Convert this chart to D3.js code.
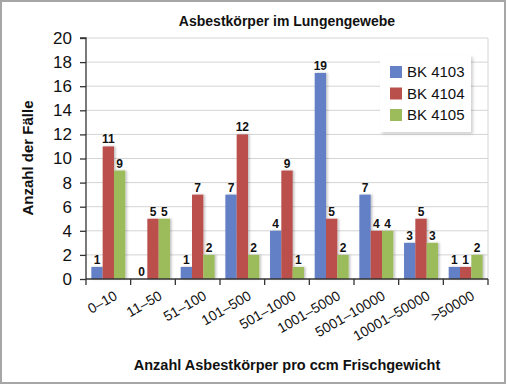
<!DOCTYPE html>
<html><head><meta charset="utf-8">
<script src="https://cdn.jsdelivr.net/npm/d3@7"></script>
<style>body{margin:0;background:#fff}svg{display:block;font-family:"Liberation Sans",Arial,sans-serif}</style>
</head><body>
<script>
const categories = ["0–10","11–50","51–100","101–500","501–1000","1001–5000","5001–10000","10001–50000",">50000"];
const seriesNames = ["BK 4103","BK 4104","BK 4105"];
const bk4103 = [1,0,1,7,4,17.1,7,3,1];
const bk4103Labels = ["1","0","1","7","4","19","7","3","1"];
const bk4104 = [11,5,7,12,9,5,4,5,1];
const bk4105 = [9,5,2,2,1,2,4,3,2];
const yTicks = [0,2,4,6,8,10,12,14,16,18,20];
const colors = ["#6480C6","#BA504C","#9CBB5A"];

const W=506,H=384;
const svg=d3.select("body").append("svg").attr("width",W).attr("height",H);
const defs=svg.append("defs");
const f=defs.append("filter").attr("id","sh").attr("x","-20%").attr("y","-5%").attr("width","150%").attr("height","115%");
f.append("feDropShadow").attr("dx",1.5).attr("dy",0).attr("stdDeviation",0.8).attr("flood-color","#000").attr("flood-opacity",0.25);
const lf=defs.append("filter").attr("id","lsh").attr("x","-10%").attr("y","-10%").attr("width","130%").attr("height","130%");
lf.append("feDropShadow").attr("dx",2).attr("dy",2).attr("stdDeviation",1.5).attr("flood-color","#000").attr("flood-opacity",0.18);

svg.append("rect").attr("x",1).attr("y",1).attr("width",W-2).attr("height",H-2).attr("fill","#fff").attr("stroke","#a6a6a6").attr("stroke-width",2);

const L=86,R=488,T=38,B=279;
const y=d3.scaleLinear().domain([0,20]).range([B,T]);
const x=d3.scaleBand().domain(categories).range([L,R]).paddingInner(0.24).paddingOuter(0.12);
const x1=d3.scaleBand().domain(seriesNames).range([0,x.bandwidth()]);

// grid
svg.append("g").selectAll("line").data(yTicks.filter(d=>d>0)).join("line")
 .attr("x1",L).attr("x2",R).attr("y1",d=>y(d)).attr("y2",d=>y(d)).attr("stroke","#d4d4d4").attr("stroke-width",1);
svg.append("line").attr("x1",R).attr("x2",R).attr("y1",T).attr("y2",B).attr("stroke","#d4d4d4");

// bars
const data=[bk4103,bk4104,bk4105];
const gBars=svg.append("g").attr("filter","url(#sh)");
categories.forEach((c,i)=>{
  seriesNames.forEach((s,j)=>{
    const v=data[j][i];
    gBars.append("rect").attr("x",x(c)+x1(s)).attr("width",x1.bandwidth()).attr("y",y(v)).attr("height",B-y(v)).attr("fill",colors[j]);
  });
});
// labels
const gLab=svg.append("g").attr("font-weight","bold").attr("font-size",12).attr("text-anchor","middle").attr("fill","#111");
categories.forEach((c,i)=>{
  seriesNames.forEach((s,j)=>{
    const v=data[j][i];
    const t = j===0 ? bk4103Labels[i] : String(v);
    gLab.append("text").attr("x",x(c)+x1(s)+x1.bandwidth()/2).attr("y",y(v)-3).text(t);
  });
});

// y axis
const ya=svg.append("g").attr("transform",`translate(${L},0)`).call(d3.axisLeft(y).tickValues(yTicks).tickSize(6).tickPadding(8));
ya.selectAll("path,line").attr("stroke","#333").attr("stroke-width",1.3);
ya.selectAll("text").attr("font-size",17).attr("fill","#111").attr("font-family","Liberation Sans, Arial, sans-serif");
ya.select(".domain").attr("d",`M-6,${T}H0V${B}`);

// x axis
const step=x.step(), pad=step*x.paddingInner()/2;
const bounds=categories.map(c=>x(c)-pad).concat([R]);
svg.append("line").attr("x1",L).attr("x2",R).attr("y1",B).attr("y2",B).attr("stroke","#333").attr("stroke-width",1.3);
svg.append("g").selectAll("line").data(bounds).join("line").attr("x1",d=>d).attr("x2",d=>d).attr("y1",B).attr("y2",B+6).attr("stroke","#333").attr("stroke-width",1.3);
svg.append("g").selectAll("text").data(categories).join("text")
 .attr("transform",c=>`translate(${x(c)+x.bandwidth()/2+5},${B+11}) rotate(-30)`)
 .attr("text-anchor","end").attr("dy","0.7em").attr("font-size",14).attr("fill","#111").text(c=>c);

// titles
svg.append("text").attr("x",287).attr("y",26).attr("text-anchor","middle").attr("font-weight","bold").attr("font-size",14).attr("fill","#111").text("Asbestkörper im Lungengewebe");
svg.append("text").attr("transform","translate(33,158) rotate(-90)").attr("text-anchor","middle").attr("font-weight","bold").attr("font-size",15).attr("fill","#111").text("Anzahl der Fälle");
svg.append("text").attr("x",287).attr("y",370).attr("text-anchor","middle").attr("font-weight","bold").attr("font-size",14.5).attr("fill","#111").text("Anzahl Asbestkörper pro ccm Frischgewicht");

// legend
const lg=svg.append("g");
lg.append("rect").attr("x",380).attr("y",55).attr("width",91).attr("height",77).attr("fill","#fff").attr("filter","url(#lsh)");
seriesNames.forEach((s,j)=>{
  const cy=72+j*21.5;
  lg.append("rect").attr("x",390).attr("y",cy-6).attr("width",12).attr("height",12).attr("fill",colors[j]);
  lg.append("text").attr("x",407).attr("y",cy).attr("dy","0.36em").attr("font-size",15).attr("fill","#111").text(s);
});
</script>
</body></html>
